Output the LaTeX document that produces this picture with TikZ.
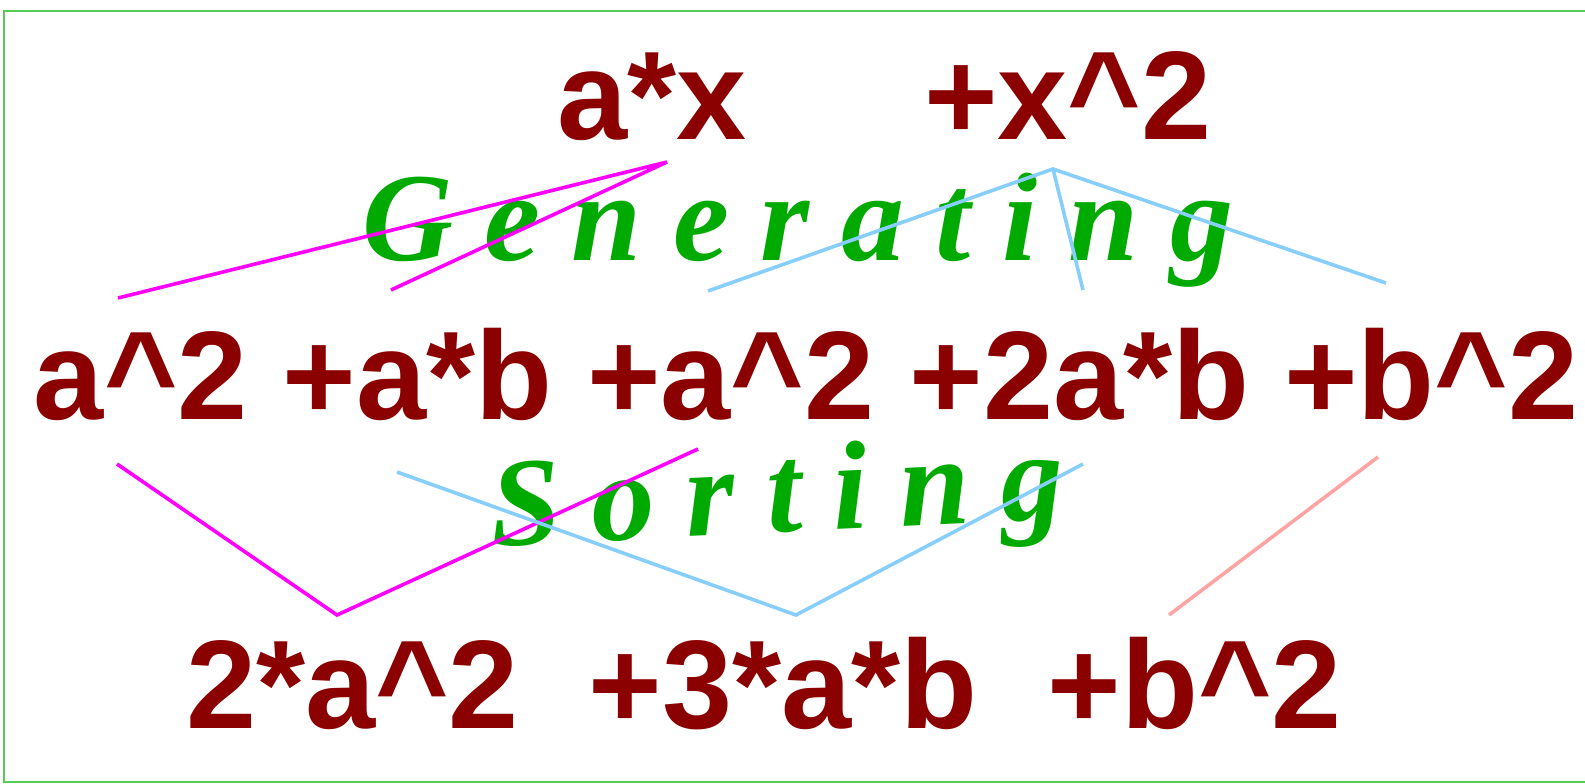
\documentclass[tikz,border=0pt]{standalone}
\usepackage{fontspec}
\newfontfamily\termfont{Liberation Sans}
\newfontfamily\labfont{Liberation Serif}
\definecolor{termred}{HTML}{8B0000}
\definecolor{labgreen}{HTML}{00AA00}
\definecolor{framegreen}{HTML}{55CC55}
\definecolor{linemag}{HTML}{FF00FF}
\definecolor{lineblue}{HTML}{87CEFA}
\definecolor{linesalmon}{HTML}{FFA3A3}
\tikzset{
  term/.style={anchor=base west, inner sep=0pt, outer sep=0pt, text=termred,
    font=\termfont\bfseries\fontsize{126}{140}\selectfont},
  lab/.style={anchor=base west, inner sep=0pt, outer sep=0pt, text=labgreen,
    font=\labfont\bfseries\itshape\fontsize{126}{140}\selectfont},
  conn/.style={line width=3.6pt},
}
\begin{document}
\begin{tikzpicture}[x=1pt,y=-1pt]
\useasboundingbox (0,0) rectangle (1585,784);
\draw[framegreen, line width=2pt] (1590,11) -- (4,11) -- (4,782) -- (1590,782);

% text
\node[term] (ax) at (557,139) {a*x};
\node[term] (x2) at (924,139) {+x\textasciicircum 2};
\node[lab] (gen) at (362,260) {G e n e r a t i n g};
\node[term] (mid) at (34,419) {a\textasciicircum 2 +a*b +a\textasciicircum 2 +2a*b +b\textasciicircum 2};
\node[lab, rotate=2.7] (sort) at (492,546) {S o r t i n g};
\node[term] (bot) at (186,728) {2*a\textasciicircum 2\ \ +3*a*b\ \ +b\textasciicircum 2};

% connector points
\coordinate (ga1) at (118,298);
\coordinate (gtop1) at (667,162);
\coordinate (ga2) at (391,290);
\coordinate (gb1) at (708,291);
\coordinate (gtop2) at (1053,169);
\coordinate (gb2) at (1083,290);
\coordinate (gb3) at (1386,283);
\coordinate (sa1) at (117,464);
\coordinate (sbot1) at (337,615);
\coordinate (sa2) at (698,449);
\coordinate (sb1) at (397,472);
\coordinate (sbot2) at (796,615);
\coordinate (sb2) at (1083,464);
\coordinate (sc1) at (1378,457);
\coordinate (sbot3) at (1169,615);

% connectors
\draw[conn, linemag] (ga1) -- (gtop1) -- (ga2);
\draw[conn, lineblue] (gb1) -- (gtop2) -- (gb3);
\draw[conn, lineblue] (gtop2) -- (gb2);
\draw[conn, linemag] (sa1) -- (sbot1) -- (sa2);
\draw[conn, lineblue] (sb1) -- (sbot2) -- (sb2);
\draw[conn, linesalmon] (sc1) -- (sbot3);
\end{tikzpicture}
\end{document}
